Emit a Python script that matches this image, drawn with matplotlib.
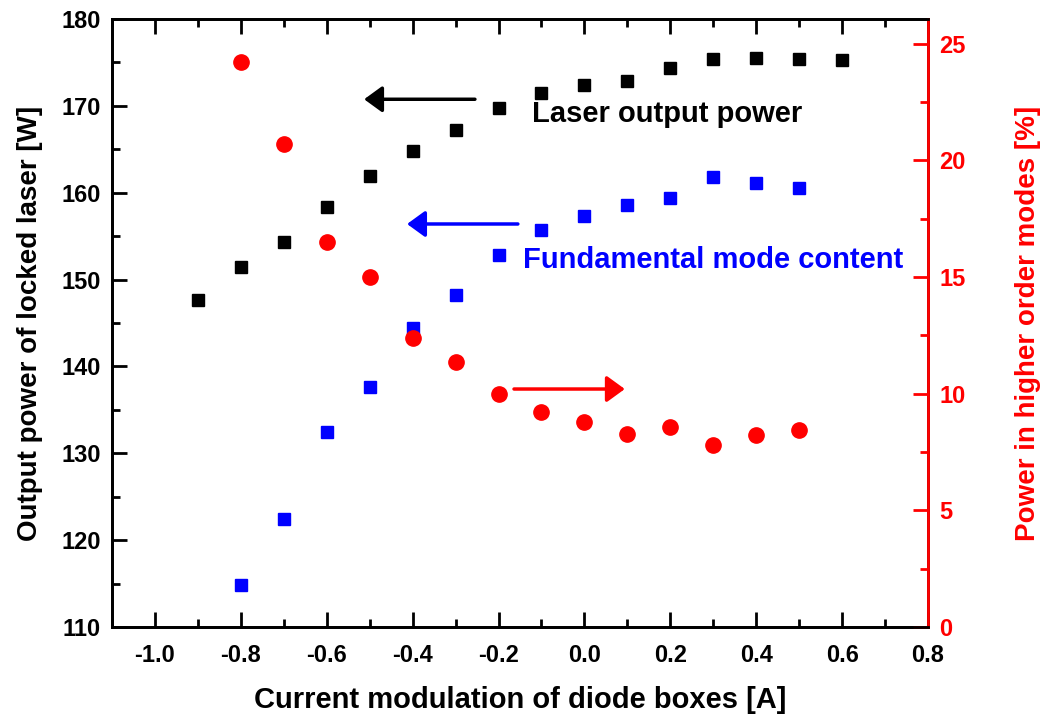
import matplotlib
matplotlib.use('Agg')
import matplotlib.pyplot as plt
from matplotlib.ticker import MultipleLocator

plt.rcParams['font.family'] = ['Liberation Sans', 'DejaVu Sans']
plt.rcParams['font.weight'] = 'bold'

# laser output power (left axis)
x_laser = [-0.9, -0.8, -0.7, -0.6, -0.5, -0.4, -0.3, -0.2, -0.1, 0.0, 0.1, 0.2, 0.3, 0.4, 0.5, 0.6]
laser_power = [147.6, 151.4, 154.3, 158.4, 161.9, 164.8, 167.2, 169.8, 171.5, 172.4, 172.9, 174.4, 175.4, 175.5, 175.4, 175.3]

# fundamental mode content (left axis)
x_fund = [-0.8, -0.7, -0.6, -0.5, -0.4, -0.3, -0.2, -0.1, 0.0, 0.1, 0.2, 0.3, 0.4, 0.5]
fund_power = [114.8, 122.4, 132.4, 137.6, 144.4, 148.2, 152.8, 155.7, 157.3, 158.6, 159.4, 161.8, 161.1, 160.5]

# power in higher order modes (right axis)
x_hom = [-0.8, -0.7, -0.6, -0.5, -0.4, -0.3, -0.2, -0.1, 0.0, 0.1, 0.2, 0.3, 0.4, 0.5]
hom_percent = [24.2, 20.7, 16.5, 15.0, 12.4, 11.35, 9.98, 9.21, 8.77, 8.26, 8.57, 7.78, 8.21, 8.45]

fig = plt.figure(figsize=(10.48, 7.17), dpi=100)
ax = fig.add_axes([0.1069, 0.1255, 0.7786, 0.848])
ax2 = ax.twinx()

ax.plot(x_laser, laser_power, 's', color='black', markersize=8.6, zorder=3)
ax.plot(x_fund, fund_power, 's', color='#0000ff', markersize=8.6, zorder=3)
ax2.plot(x_hom, hom_percent, 'o', color='#ff0000', markersize=11, zorder=3)

ax.set_xlim(-1.1, 0.8)
ax.set_ylim(110, 180)
ax2.set_ylim(0, 26.05)

ax.xaxis.set_minor_locator(MultipleLocator(0.1))
ax.yaxis.set_major_locator(MultipleLocator(10))
ax.yaxis.set_minor_locator(MultipleLocator(5))
ax2.yaxis.set_major_locator(MultipleLocator(5))
ax2.yaxis.set_minor_locator(MultipleLocator(2.5))

ax.set_xticks([-1.0, -0.8, -0.6, -0.4, -0.2, 0.0, 0.2, 0.4, 0.6, 0.8])
ax.set_xticklabels(['-1.0', '-0.8', '-0.6', '-0.4', '-0.2', '0.0', '0.2', '0.4', '0.6', '0.8'])

for a in (ax, ax2):
    for s in a.spines.values():
        s.set_linewidth(2)
ax2.spines['right'].set_color('#ff0000')

ax.tick_params(axis='both', which='major', direction='in', length=11, width=2,
               labelsize=17, top=True, pad=8)
ax.tick_params(axis='x', which='major', pad=12)
ax.tick_params(axis='both', which='minor', direction='in', length=6, width=2, top=True)
ax.tick_params(axis='y', right=False, which='both')
ax2.tick_params(axis='y', which='major', direction='in', length=11, width=2,
                labelsize=17, colors='#ff0000', pad=8)
ax2.tick_params(axis='y', which='minor', direction='in', length=6, width=2, colors='#ff0000')

ax.set_xlabel('Current modulation of diode boxes [A]', fontsize=21, fontweight='bold', labelpad=14)
ax.set_ylabel('Output power of locked laser [W]', fontsize=20, fontweight='bold', labelpad=13)
ax2.set_ylabel('Power in higher order modes [%]', fontsize=20, fontweight='bold',
               color='#ff0000', labelpad=36)

arrow = dict(arrowstyle='-|>,head_length=0.55,head_width=0.4', lw=2.5, shrinkA=0, shrinkB=0,
             mutation_scale=20)
ax.annotate('', xy=(-0.513, 170.76), xytext=(-0.255, 170.76),
            arrowprops=dict(arrow, color='black'))
ax.annotate('', xy=(-0.413, 156.4), xytext=(-0.155, 156.4),
            arrowprops=dict(arrow, color='#0000ff'))
ax.annotate('', xy=(0.094, 137.4), xytext=(-0.164, 137.4),
            arrowprops=dict(arrow, color='#ff0000'))

ax.text(-0.122, 169.1, 'Laser output power', fontsize=21, fontweight='bold',
        color='black', va='center', ha='left')
ax.text(-0.144, 152.3, 'Fundamental mode content', fontsize=21, fontweight='bold',
        color='#0000ff', va='center', ha='left')

fig.savefig('out.png', dpi=100)
